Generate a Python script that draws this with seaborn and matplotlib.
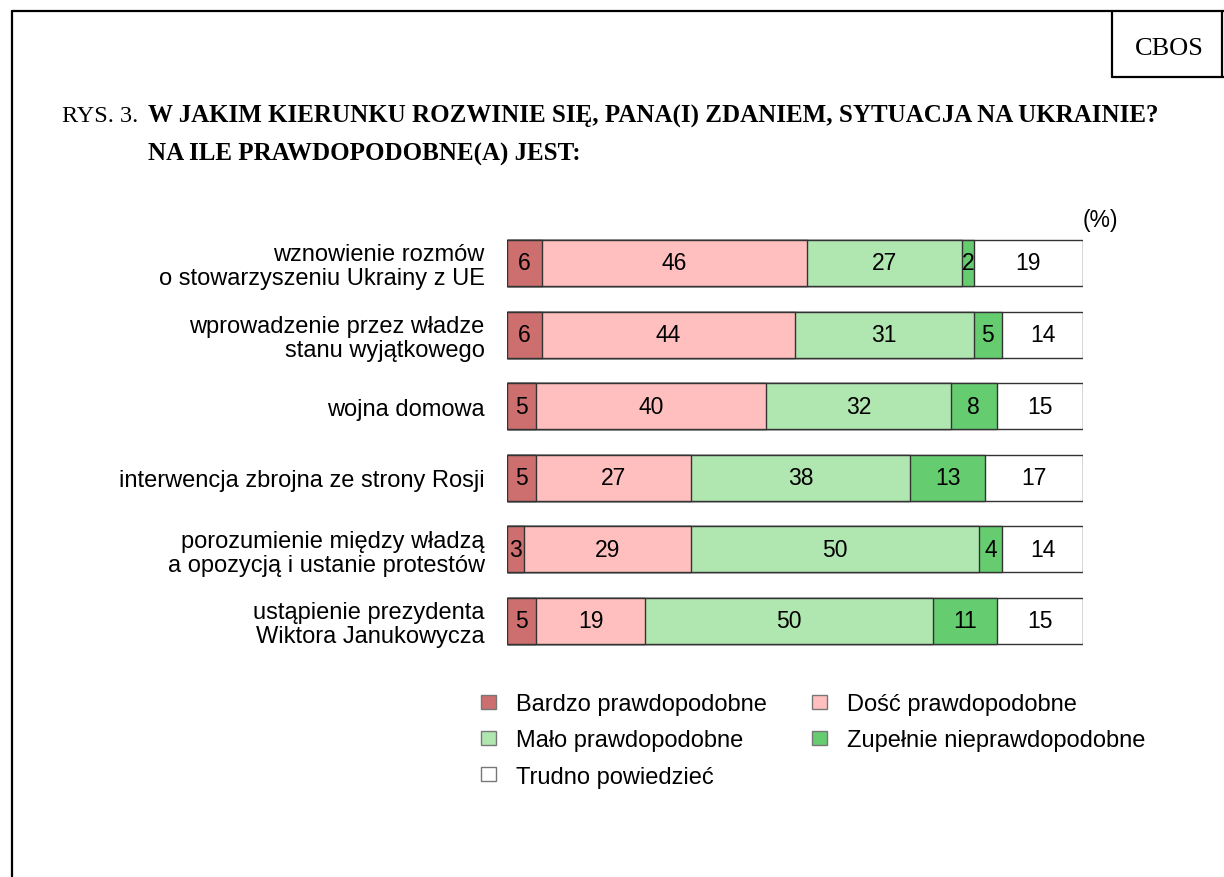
import matplotlib
matplotlib.use("Agg")
import matplotlib.pyplot as plt
import numpy as np
import pandas as pd
import seaborn as sns
from matplotlib.lines import Line2D
from matplotlib.patches import Patch

# dane
pytania = [
    "wznowienie rozmów\no stowarzyszeniu Ukrainy z UE",
    "wprowadzenie przez władze\nstanu wyjątkowego",
    "wojna domowa",
    "interwencja zbrojna ze strony Rosji",
    "porozumienie między władzą\na opozycją i ustanie protestów",
    "ustąpienie prezydenta\nWiktora Janukowycza",
]
kategorie = ["Bardzo prawdopodobne", "Dość prawdopodobne", "Mało prawdopodobne",
             "Zupełnie nieprawdopodobne", "Trudno powiedzieć"]
bardzo = [6, 6, 5, 5, 3, 5]
dosc = [46, 44, 40, 27, 29, 19]
malo = [27, 31, 32, 38, 50, 50]
zupelnie = [2, 5, 8, 13, 4, 11]
trudno = [19, 14, 15, 17, 14, 15]
kolory = ["#CD6F6F", "#FFBFBF", "#B0E6B0", "#66CC70", "#FFFFFF"]

serie = [bardzo, dosc, malo, zupelnie, trudno]
df = pd.DataFrame({k: s for k, s in zip(kategorie, serie)}, index=pytania)
skum = df.cumsum(axis=1)

sns.set_style("white")
plt.rcParams["font.family"] = ["Liberation Sans", "DejaVu Sans"]
plt.rcParams["text.color"] = "black"
plt.rcParams["ytick.color"] = "black"

fig = plt.figure(figsize=(12.24, 8.78), dpi=100)
ax = fig.add_axes([0.4142, 0.2508, 0.4706, 0.4893])

# słupki skumulowane - rysowane od najdłuższego
for kat, kol in reversed(list(zip(kategorie, kolory))):
    sns.barplot(x=skum[kat].values, y=pytania, orient="h", color=kol,
                edgecolor="#333333", linewidth=1.0, width=0.64, ax=ax,
                saturation=1)

# wartości w środku segmentów
for i in range(len(pytania)):
    for kat in kategorie:
        v = df[kat].iloc[i]
        xc = skum[kat].iloc[i] - v / 2
        ax.text(xc, i, str(v), ha="center", va="center", fontsize=16.5, color="black")

ax.set_xlim(0, 100)
ax.set_ylim(len(pytania) - 0.5, -0.5)
ax.set_xticks([])
ax.set_xlabel("")
ax.set_ylabel("")
sns.despine(ax=ax, left=True, bottom=True)
ax.tick_params(axis="y", length=0, pad=16, labelsize=17, labelcolor="black")
for t in ax.get_yticklabels():
    t.set_linespacing(1.1)

ax.text(1.0, 1.019, "(%)", transform=ax.transAxes, ha="left", va="center", fontsize=16.5)

# legenda
uchwyty = [Patch(facecolor=kolory[j], edgecolor="#777777", label=kategorie[j])
           for j in [0, 2, 4, 1, 3]]
leg = fig.legend(handles=uchwyty, loc="upper left", bbox_to_anchor=(0.376, 0.2335),
                 ncol=2, frameon=False, fontsize=17, handlelength=0.63, handleheight=0.55,
                 handletextpad=0.85, columnspacing=1.9, labelspacing=0.6)

# tytuł
fig.text(62 / 1224, 1 - 116 / 878, "RYS. 3.", family="Liberation Serif",
         fontsize=17.5, va="center", ha="left")
fig.text(148 / 1224, 1 - 116 / 878, "W JAKIM KIERUNKU ROZWINIE SIĘ, PANA(I) ZDANIEM, SYTUACJA NA UKRAINIE?",
         family="Liberation Serif", fontsize=18, fontweight="bold", va="center", ha="left")
fig.text(148 / 1224, 1 - 154 / 878, "NA ILE PRAWDOPODOBNE(A) JEST:",
         family="Liberation Serif", fontsize=18, fontweight="bold", va="center", ha="left")
fig.text(1169 / 1224, 1 - 49 / 878, "CBOS", family="Liberation Serif",
         fontsize=19, va="center", ha="center")

# ramka
def linia(x, y):
    fig.add_artist(Line2D([xx / 1224 for xx in x], [1 - yy / 878 for yy in y],
                          color="black", linewidth=1.6, transform=fig.transFigure))

linia([12, 12], [878, 12])
linia([12, 1224], [12, 12])
linia([1112, 1112], [12, 78])
linia([1112, 1224], [78, 78])
linia([1222, 1222], [12, 78])

fig.savefig("out.png", dpi=100)
